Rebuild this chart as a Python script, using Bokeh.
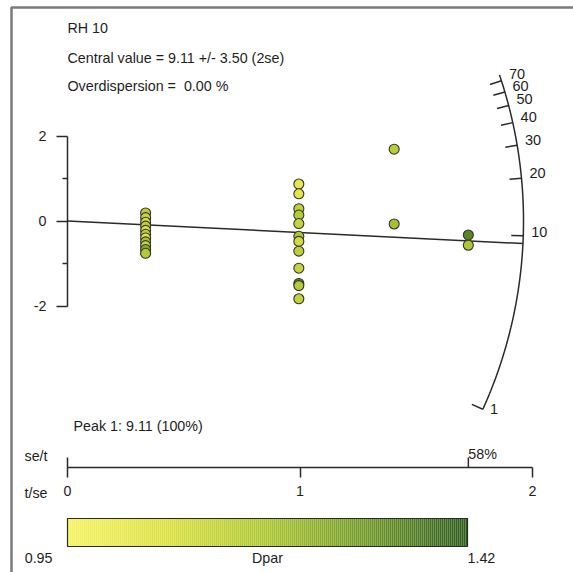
import math
import numpy as np
from bokeh.plotting import figure
from bokeh.models import Range1d, LinearAxis, FixedTicker, ColumnDataSource
from bokeh.core.properties import value
from bokeh.embed import file_html
from bokeh.resources import INLINE

# ---------------- data ----------------
sample_name = "RH 10"
central_text = "Central value = 9.11 +/- 3.50 (2se)"
overdisp_text = "Overdispersion =\u00a0 0.00 %"
peak_text = "Peak 1: 9.11 (100%)"
central_value = 9.11
log_ref = 2.48                      # z0 of the radial plot (log scale)
arc_tick_values = [1, 10, 20, 30, 40, 50, 60, 70]
arc_max_value = 76
y_ticks = [-2, 0, 2]
y_minor_ticks = [-1, 1]
precision_ticks = [0, 1, 2]
se_t_ticks = [0.58]
se_t_label = "58%"
dpar_min, dpar_max = 0.95, 1.42
dpar_title = "Dpar"

# precision (t/se) of every grain
precision = ([0.336] * 11 + [0.995] * 12 + [1.405] * 2 + [1.724] * 2)
# standardised estimate of every grain
z_std = [0.19, 0.08, -0.03, -0.12, -0.22, -0.31, -0.40, -0.49, -0.58, -0.67, -0.76,
         0.87, 0.64, 0.29, 0.14, -0.06, -0.36, -0.48, -0.71, -1.11, -1.47, -1.52, -1.83,
         1.69, -0.07,
         -0.33, -0.57]
# Dpar of every grain (colour)
dpar = [1.15, 1.12, 1.08, 1.14, 1.06, 1.16, 1.04, 1.19, 1.12, 1.26, 1.17,
        1.02, 1.03, 1.14, 1.16, 1.12, 1.18, 1.09, 1.14, 1.12, 1.34, 1.16, 1.13,
        1.15, 1.20,
        1.34, 1.18]

# ---------------- layout constants (pixels) ----------------
W, H = 573, 572
X0, Y0 = 67.0, 220.5     # pixel of origin
KX, KY = 232.5, 42.5     # pixels per data unit
R = 456.0                # arc radius in pixels

def px(xp):
    return (xp - X0) / KX

def py(yp):
    return (Y0 - yp) / KY

anchors = [(0.0, (246, 243, 96)), (0.25, (218, 224, 62)), (0.5, (172, 198, 48)),
           (0.75, (112, 152, 40)), (1.0, (46, 92, 30))]

def cmap(f):
    f = min(max(f, 0.0), 1.0)
    for (f0, c0), (f1, c1) in zip(anchors[:-1], anchors[1:]):
        if f <= f1:
            t = (f - f0) / (f1 - f0)
            c = [round(a + (b - a) * t) for a, b in zip(c0, c1)]
            return "#%02x%02x%02x" % tuple(c)
    return "#%02x%02x%02x" % anchors[-1][1]

p = figure(width=W, height=H, output_backend="svg", toolbar_location=None,
           x_range=Range1d(px(0), px(W)), y_range=Range1d(py(H), py(0)),
           x_axis_type=None, y_axis_type=None, min_border=0)
p.outline_line_color = None
p.xgrid.visible = False
p.ygrid.visible = False
p.background_fill_color = "white"
p.border_fill_color = "white"

FONT = "Liberation Sans"
TXT = "#1e1e1e"
LINE = "#2a2a2a"
LW = 1.5

# frame border (only top/left visible)
p.line(x=[px(11), px(11), px(700)], y=[py(700), py(7), py(7)], line_color="#7a7a7a", line_width=2.5)

# header texts
p.text(x=[px(67)] * 3, y=[py(27), py(57), py(85)], text=[sample_name, central_text, overdisp_text],
       text_font=value(FONT), text_font_size="14.3px", text_color=TXT,
       text_align="left", text_baseline="middle")

# left axis (standardised estimate)
yax = LinearAxis(fixed_location=0, bounds=(-2, 2),
                 ticker=FixedTicker(ticks=y_ticks, minor_ticks=y_minor_ticks),
                 major_label_overrides={-2: "-2", 0: "0", 2: "2"})
yax.axis_line_color = LINE
yax.axis_line_width = LW
yax.major_tick_line_color = LINE
yax.major_tick_line_width = LW
yax.minor_tick_line_color = LINE
yax.minor_tick_line_width = LW
yax.major_tick_out = 11
yax.major_tick_in = 0
yax.minor_tick_out = 5
yax.minor_tick_in = 0
yax.major_label_standoff = 10
yax.major_label_text_font = FONT
yax.major_label_text_font_size = "14.3px"
yax.major_label_text_color = TXT
p.add_layout(yax, "left")

# arc geometry
def theta(v):
    return math.atan((math.log(v) - log_ref) * KY / KX)

th0, th1 = theta(arc_tick_values[0]), theta(arc_max_value)
ths = np.linspace(th0, th1, 200)
p.line(x=R * np.cos(ths) / KX, y=R * np.sin(ths) / KY, line_color=LINE, line_width=LW)

tx0, ty0, tx1, ty1, lx, ly = [], [], [], [], [], []
for v in arc_tick_values:
    t = theta(v)
    tx0.append((R - 12) * math.cos(t) / KX); ty0.append((R - 12) * math.sin(t) / KY)
    tx1.append(R * math.cos(t) / KX); ty1.append(R * math.sin(t) / KY)
    lx.append((R + 8) * math.cos(t) / KX); ly.append(((R + 8) * math.sin(t) + 4) / KY)
p.segment(x0=tx0, y0=ty0, x1=tx1, y1=ty1, line_color=LINE, line_width=LW)
p.text(x=lx, y=ly, text=[str(v) for v in arc_tick_values], text_font=value(FONT),
       text_font_size="14.5px", text_color=TXT, text_align="left", text_baseline="middle")

# central value line
tc = theta(central_value)
p.line(x=[0, R * math.cos(tc) / KX], y=[0, R * math.sin(tc) / KY], line_color=LINE, line_width=LW)

# grains
src = ColumnDataSource(dict(x=precision, y=z_std,
                            c=[cmap((d - dpar_min) / (dpar_max - dpar_min)) for d in dpar]))
p.scatter(x="x", y="y", source=src, size=10, fill_color="c", line_color="#333333", line_width=1.1)

# peak text
p.text(x=[px(73)], y=[py(425)], text=[peak_text], text_font=value(FONT), text_font_size="14.3px",
       text_color=TXT, text_align="left", text_baseline="middle")

# precision axis
axis_y = py(467)
xax = LinearAxis(fixed_location=axis_y, bounds=(0, 2), ticker=FixedTicker(ticks=precision_ticks, minor_ticks=[]))
xax.axis_line_color = LINE
xax.axis_line_width = LW
xax.major_tick_line_color = LINE
xax.major_tick_line_width = LW
xax.major_tick_out = 10
xax.major_tick_in = 0
xax.major_label_standoff = 8
xax.major_label_text_font = FONT
xax.major_label_text_font_size = "14.3px"
xax.major_label_text_color = TXT
p.add_layout(xax, "below")

# se/t ticks above the axis
se_x = [0] + [1.0 / s for s in se_t_ticks]
p.segment(x0=se_x, y0=[axis_y] * len(se_x), x1=se_x, y1=[axis_y + 10 / KY] * len(se_x),
          line_color=LINE, line_width=LW)
p.text(x=[1.0 / se_t_ticks[0]], y=[py(453)], text=[se_t_label], text_font=value(FONT),
       text_font_size="14.3px", text_color=TXT, text_align="left", text_baseline="middle")
p.text(x=[px(24), px(24)], y=[py(455), py(492)], text=["se/t", "t/se"], text_font=value(FONT),
       text_font_size="14.3px", text_color=TXT, text_align="left", text_baseline="middle")

# colour bar
cb_left, cb_right = 0.0, px(467)
n = 200
edges = np.linspace(cb_left, cb_right, n + 1)
fr = (np.arange(n) + 0.5) / n
p.quad(left=edges[:-1], right=edges[1:], bottom=py(546), top=py(518),
       fill_color=[cmap(f) for f in fr], line_color=None)
p.quad(left=[cb_left], right=[cb_right], bottom=[py(546)], top=[py(518)],
       fill_color=None, line_color=LINE, line_width=1.2)
p.text(x=[px(52), (cb_left + cb_right) / 2, cb_right], y=[py(557)] * 3,
       text=["%.2f" % dpar_min, dpar_title, "%.2f" % dpar_max], text_font=value(FONT),
       text_font_size="14.3px", text_color=TXT, text_align=["right", "center", "left"],
       text_baseline="middle")

open("out.html", "w").write(file_html(p, INLINE))
